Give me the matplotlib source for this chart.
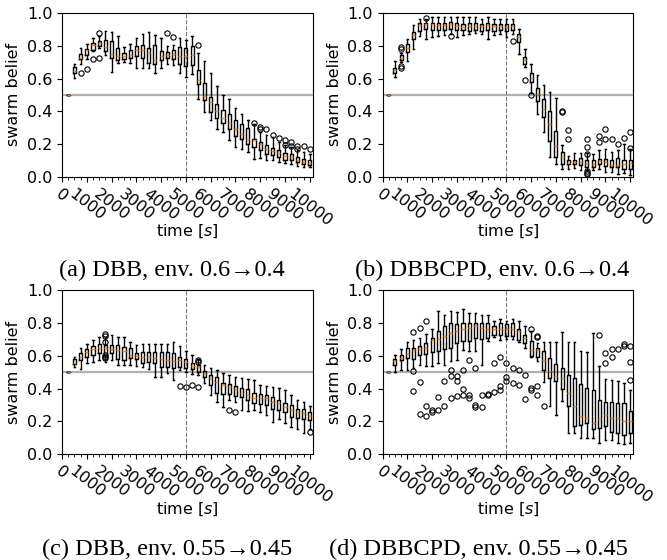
import matplotlib
matplotlib.use("Agg")
import matplotlib.pyplot as plt

# sample times are every 250 s; boxes sit at positions 1..40
tick_pos = [0, 4, 8, 12, 16, 20, 24, 28, 32, 36, 40]
tick_labels = ['0', '1000', '2000', '3000', '4000', '5000',
               '6000', '7000', '8000', '9000', '10000']
switch_pos = 20

# (a) DBB, env. 0.6 -> 0.4
a_med = [0.5, 0.646, 0.722, 0.772, 0.807, 0.819, 0.793, 0.752, 0.736, 0.736,
         0.744, 0.776, 0.776, 0.758, 0.711, 0.738, 0.746, 0.752, 0.738, 0.736,
         0.742, 0.590, 0.492, 0.457, 0.403, 0.360, 0.329, 0.291, 0.260, 0.234,
         0.223, 0.199, 0.173, 0.157, 0.148, 0.128, 0.122, 0.106, 0.091, 0.085]
a_q1 = [0.5, 0.634, 0.716, 0.742, 0.776, 0.799, 0.766, 0.722, 0.711, 0.716,
        0.725, 0.736, 0.728, 0.695, 0.687, 0.711, 0.728, 0.716, 0.691, 0.675,
        0.681, 0.565, 0.468, 0.396, 0.362, 0.329, 0.295, 0.248, 0.234, 0.203,
        0.183, 0.163, 0.142, 0.132, 0.122, 0.106, 0.102, 0.091, 0.081, 0.071]
a_q3 = [0.5, 0.671, 0.752, 0.778, 0.819, 0.829, 0.833, 0.827, 0.788, 0.758,
        0.776, 0.799, 0.803, 0.788, 0.803, 0.766, 0.762, 0.772, 0.793, 0.786,
        0.797, 0.654, 0.575, 0.488, 0.447, 0.411, 0.382, 0.345, 0.321, 0.301,
        0.234, 0.213, 0.193, 0.179, 0.163, 0.146, 0.138, 0.122, 0.112, 0.106]
a_lo = [0.5, 0.606, 0.691, 0.718, 0.766, 0.786, 0.742, 0.640, 0.695, 0.703,
        0.695, 0.664, 0.664, 0.664, 0.636, 0.664, 0.691, 0.685, 0.634, 0.610,
        0.630, 0.477, 0.396, 0.345, 0.292, 0.274, 0.228, 0.183, 0.173, 0.152,
        0.112, 0.116, 0.102, 0.102, 0.091, 0.085, 0.077, 0.065, 0.061, 0.061]
a_hi = [0.5, 0.687, 0.785, 0.813, 0.844, 0.858, 0.888, 0.884, 0.860, 0.793,
        0.813, 0.844, 0.870, 0.882, 0.864, 0.844, 0.799, 0.803, 0.844, 0.836,
        0.858, 0.758, 0.707, 0.634, 0.555, 0.498, 0.474, 0.423, 0.382, 0.350,
        0.325, 0.274, 0.254, 0.244, 0.213, 0.193, 0.183, 0.163, 0.152, 0.142]
a_fliers = {3: [0.634], 4: [0.660], 5: [0.716], 6: [0.880, 0.728], 17: [0.880],
            18: [0.854], 22: [0.803], 31: [0.331], 32: [0.305, 0.290],
            33: [0.295], 34: [0.254], 35: [0.240], 36: [0.228, 0.193],
            37: [0.213, 0.187], 38: [0.187, 0.173], 39: [0.187], 40: [0.169]}

# (b) DBBCPD, env. 0.6 -> 0.4
b_med = [0.5, 0.650, 0.728, 0.786, 0.866, 0.925, 0.931, 0.931, 0.929, 0.925,
         0.931, 0.921, 0.915, 0.919, 0.921, 0.919, 0.925, 0.919, 0.919, 0.911,
         0.919, 0.852, 0.713, 0.603, 0.506, 0.417, 0.325, 0.186, 0.122, 0.087,
         0.091, 0.091, 0.085, 0.081, 0.095, 0.091, 0.075, 0.075, 0.077, 0.085]
b_q1 = [0.5, 0.634, 0.711, 0.759, 0.843, 0.892, 0.904, 0.894, 0.898, 0.898,
        0.904, 0.894, 0.894, 0.890, 0.894, 0.890, 0.894, 0.890, 0.894, 0.890,
        0.894, 0.820, 0.689, 0.576, 0.465, 0.368, 0.220, 0.120, 0.079, 0.077,
        0.077, 0.071, 0.061, 0.061, 0.077, 0.065, 0.061, 0.061, 0.051, 0.051]
b_q3 = [0.5, 0.666, 0.743, 0.808, 0.882, 0.937, 0.939, 0.939, 0.939, 0.939,
        0.945, 0.939, 0.935, 0.937, 0.937, 0.935, 0.939, 0.935, 0.935, 0.935,
        0.935, 0.874, 0.730, 0.632, 0.545, 0.475, 0.400, 0.279, 0.152, 0.106,
        0.106, 0.118, 0.106, 0.102, 0.112, 0.112, 0.102, 0.118, 0.106, 0.102]
b_lo = [0.5, 0.608, 0.701, 0.708, 0.780, 0.859, 0.843, 0.854, 0.858, 0.868,
        0.874, 0.854, 0.864, 0.874, 0.876, 0.874, 0.843, 0.864, 0.874, 0.854,
        0.874, 0.752, 0.671, 0.513, 0.386, 0.274, 0.122, 0.079, 0.051, 0.051,
        0.057, 0.045, 0.041, 0.041, 0.051, 0.030, 0.030, 0.016, 0.024, 0.010]
b_hi = [0.5, 0.706, 0.756, 0.843, 0.928, 0.965, 0.965, 0.976, 0.972, 0.972,
        0.976, 0.976, 0.972, 0.976, 0.976, 0.965, 0.976, 0.965, 0.965, 0.965,
        0.965, 0.904, 0.780, 0.686, 0.620, 0.559, 0.515, 0.480, 0.193, 0.126,
        0.146, 0.146, 0.146, 0.142, 0.163, 0.173, 0.152, 0.163, 0.203, 0.173]
b_fliers = {3: [0.793, 0.781, 0.677, 0.665], 7: [0.970], 11: [0.858],
            21: [0.829], 23: [0.593], 24: [0.500], 29: [0.402, 0.396],
            30: [0.289, 0.232], 33: [0.234, 0.183, 0.142, 0.035, 0.027, 0.020],
            35: [0.248, 0.213], 36: [0.293, 0.232], 37: [0.230], 38: [0.203],
            39: [0.240], 40: [0.275, 0.179]}

# (c) DBB, env. 0.55 -> 0.45
c_med = [0.5, 0.558, 0.590, 0.625, 0.639, 0.645, 0.645, 0.641, 0.635, 0.631,
         0.604, 0.598, 0.590, 0.590, 0.584, 0.578, 0.574, 0.570, 0.574, 0.564,
         0.538, 0.533, 0.489, 0.462, 0.442, 0.422, 0.412, 0.396, 0.371, 0.361,
         0.345, 0.341, 0.341, 0.320, 0.310, 0.290, 0.270, 0.254, 0.249, 0.233]
c_q1 = [0.5, 0.548, 0.574, 0.590, 0.604, 0.619, 0.604, 0.615, 0.578, 0.574,
        0.584, 0.578, 0.554, 0.564, 0.554, 0.533, 0.533, 0.523, 0.529, 0.523,
        0.517, 0.503, 0.469, 0.422, 0.371, 0.367, 0.367, 0.355, 0.347, 0.331,
        0.310, 0.306, 0.300, 0.274, 0.270, 0.254, 0.229, 0.223, 0.213, 0.209]
c_q3 = [0.5, 0.578, 0.619, 0.641, 0.659, 0.671, 0.665, 0.665, 0.665, 0.655,
        0.645, 0.615, 0.625, 0.625, 0.625, 0.625, 0.625, 0.619, 0.590, 0.578,
        0.558, 0.544, 0.507, 0.483, 0.469, 0.436, 0.428, 0.416, 0.402, 0.396,
        0.371, 0.367, 0.361, 0.347, 0.331, 0.310, 0.300, 0.274, 0.274, 0.254]
c_lo = [0.5, 0.533, 0.519, 0.554, 0.564, 0.574, 0.564, 0.574, 0.544, 0.544,
        0.544, 0.538, 0.533, 0.517, 0.473, 0.473, 0.493, 0.452, 0.513, 0.503,
        0.489, 0.483, 0.432, 0.361, 0.320, 0.290, 0.331, 0.320, 0.270, 0.266,
        0.270, 0.254, 0.239, 0.199, 0.213, 0.189, 0.168, 0.152, 0.128, 0.152]
c_hi = [0.5, 0.590, 0.645, 0.671, 0.696, 0.716, 0.716, 0.726, 0.716, 0.716,
        0.686, 0.665, 0.671, 0.671, 0.671, 0.671, 0.671, 0.686, 0.659, 0.631,
        0.604, 0.578, 0.544, 0.523, 0.513, 0.493, 0.483, 0.473, 0.462, 0.456,
        0.452, 0.422, 0.416, 0.412, 0.402, 0.392, 0.361, 0.331, 0.320, 0.294]
c_fliers = {7: [0.730, 0.720, 0.686, 0.604, 0.590, 0.584], 19: [0.416],
            20: [0.412], 21: [0.422], 22: [0.574, 0.564, 0.412],
            27: [0.270], 28: [0.254], 40: [0.138]}

# (d) DBBCPD, env. 0.55 -> 0.45
d_med = [0.5, 0.570, 0.587, 0.613, 0.634, 0.638, 0.648, 0.695, 0.699, 0.723,
         0.739, 0.750, 0.764, 0.770, 0.780, 0.770, 0.764, 0.764, 0.764, 0.760,
         0.760, 0.750, 0.709, 0.637, 0.633, 0.576, 0.505, 0.479, 0.464, 0.373,
         0.295, 0.230, 0.220, 0.189, 0.214, 0.240, 0.220, 0.220, 0.200, 0.200]
d_q1 = [0.5, 0.546, 0.572, 0.587, 0.580, 0.607, 0.613, 0.620, 0.627, 0.638,
        0.648, 0.679, 0.689, 0.689, 0.709, 0.699, 0.709, 0.729, 0.729, 0.719,
        0.719, 0.695, 0.678, 0.601, 0.593, 0.515, 0.464, 0.444, 0.397, 0.295,
        0.173, 0.179, 0.189, 0.153, 0.159, 0.169, 0.138, 0.128, 0.118, 0.132]
d_q3 = [0.5, 0.580, 0.607, 0.648, 0.648, 0.658, 0.679, 0.709, 0.750, 0.780,
        0.797, 0.791, 0.801, 0.801, 0.801, 0.801, 0.801, 0.780, 0.801, 0.791,
        0.800, 0.764, 0.729, 0.688, 0.648, 0.627, 0.587, 0.552, 0.525, 0.485,
        0.464, 0.430, 0.403, 0.393, 0.332, 0.316, 0.316, 0.312, 0.312, 0.261]
d_lo = [0.5, 0.499, 0.511, 0.515, 0.526, 0.546, 0.540, 0.540, 0.556, 0.546,
        0.566, 0.576, 0.634, 0.627, 0.627, 0.546, 0.689, 0.715, 0.695, 0.699,
        0.699, 0.682, 0.648, 0.593, 0.566, 0.438, 0.291, 0.240, 0.322, 0.132,
        0.128, 0.098, 0.098, 0.098, 0.071, 0.088, 0.088, 0.067, 0.063, 0.067]
d_hi = [0.5, 0.607, 0.638, 0.683, 0.695, 0.709, 0.730, 0.760, 0.872, 0.851,
        0.872, 0.866, 0.882, 0.862, 0.862, 0.846, 0.846, 0.811, 0.821, 0.811,
        0.825, 0.811, 0.784, 0.749, 0.678, 0.682, 0.682, 0.682, 0.743, 0.682,
        0.682, 0.627, 0.621, 0.739, 0.536, 0.458, 0.454, 0.444, 0.434, 0.393]
d_fliers = {5: [0.743, 0.505, 0.383], 6: [0.770, 0.438, 0.247],
            7: [0.811, 0.296, 0.230], 8: [0.271, 0.255], 9: [0.348, 0.271],
            10: [0.444, 0.296], 11: [0.511, 0.474, 0.342],
            12: [0.474, 0.444, 0.356], 13: [0.515, 0.397, 0.362],
            14: [0.572, 0.362, 0.342], 15: [0.526, 0.301, 0.287],
            16: [0.362, 0.287], 17: [0.366, 0.362], 18: [0.556, 0.377],
            19: [0.593, 0.413, 0.393], 20: [0.556, 0.470, 0.444],
            21: [0.525, 0.434], 22: [0.515, 0.424], 23: [0.485, 0.336],
            24: [0.764, 0.403, 0.389], 25: [0.723, 0.713, 0.413, 0.363],
            26: [0.291], 35: [0.729], 36: [0.617, 0.556], 37: [0.642, 0.593],
            38: [0.642], 39: [0.674, 0.662], 40: [0.662, 0.560, 0.454]}

captions = ['(a) DBB, env. 0.6\u21920.4', '(b) DBBCPD, env. 0.6\u21920.4',
            '(c) DBB, env. 0.55\u21920.45', '(d) DBBCPD, env. 0.55\u21920.45']

panels = [(a_med, a_q1, a_q3, a_lo, a_hi, a_fliers),
          (b_med, b_q1, b_q3, b_lo, b_hi, b_fliers),
          (c_med, c_q1, c_q3, c_lo, c_hi, c_fliers),
          (d_med, d_q1, d_q3, d_lo, d_hi, d_fliers)]

plt.rcParams['font.size'] = 11.5

fig = plt.figure(figsize=(6.67, 5.6), dpi=100)
rects = [[0.093, 0.684, 0.376, 0.293], [0.5735, 0.684, 0.376, 0.293],
         [0.093, 0.189, 0.376, 0.293], [0.5735, 0.189, 0.376, 0.293]]

for rect, (med, q1, q3, lo, hi, fl) in zip(rects, panels):
    ax = fig.add_axes(rect)
    stats = []
    for i in range(len(med)):
        stats.append(dict(med=med[i], q1=q1[i], q3=q3[i], whislo=lo[i],
                          whishi=hi[i], fliers=fl.get(i + 1, [])))
    ax.axhline(0.5, color='#b0b0b0', lw=1.6, zorder=0)
    ax.axvline(switch_pos, color='#777777', ls='--', lw=0.8, zorder=0)
    ax.bxp(stats, positions=range(1, len(med) + 1), widths=0.5,
           boxprops=dict(lw=1.0), whiskerprops=dict(lw=1.0),
           capprops=dict(lw=1.0), medianprops=dict(color='#ff7f0e', lw=1.0),
           flierprops=dict(marker='o', markersize=3.8, markeredgewidth=0.8,
                           markerfacecolor='none'),
           manage_ticks=False)
    ax.set_xticks(range(0, 41), minor=True)
    ax.set_xticks(tick_pos)
    ax.set_xticklabels(tick_labels, rotation=-38)
    ax.tick_params(axis='x', which='minor', length=2.5)
    ax.set_xlim(0, 40.5)
    ax.set_ylim(0, 1)
    ax.set_yticks([0, 0.2, 0.4, 0.6, 0.8, 1.0])
    ax.set_ylabel('swarm belief')
    ax.set_xlabel('time [$s$]')
    ax.xaxis.set_label_coords(0.5, -0.28)

serif = ['Liberation Serif', 'DejaVu Serif']
fig.text(0.258, 0.507, captions[0], ha='center', va='baseline', fontsize=17.5, family=serif)
fig.text(0.738, 0.507, captions[1], ha='center', va='baseline', fontsize=17.5, family=serif)
fig.text(0.25, 0.009, captions[2], ha='center', va='baseline', fontsize=17.5, family=serif)
fig.text(0.718, 0.009, captions[3], ha='center', va='baseline', fontsize=17.5, family=serif)

fig.savefig('out.png', dpi=100)
